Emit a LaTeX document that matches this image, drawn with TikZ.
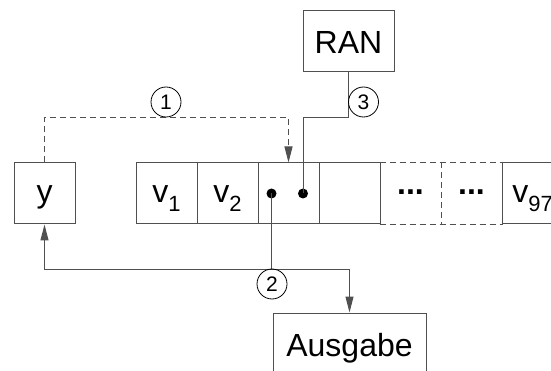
\documentclass[tikz,border=0pt]{standalone}
\usepackage{fontspec}
\setmainfont{Liberation Sans}
\usetikzlibrary{arrows.meta,positioning,calc}
\definecolor{linegray}{HTML}{505050}
\newcommand{\idx}[1]{\raisebox{-9pt}{\fontsize{22}{24}\selectfont #1}}

\begin{document}
\begin{tikzpicture}[x=1pt,y=-1pt,>={Triangle[length=16pt,width=8pt]},
  box/.style={draw=linegray,line width=1pt,minimum width=61pt,minimum height=61pt,
    inner sep=0pt,text height=18pt,text depth=0pt,font=\fontsize{32}{36}\selectfont},
  wide/.style={box,text height=25pt},
  cell/.style={box,draw=none},
  num/.style={circle,draw=black,line width=0.8pt,minimum size=30pt,inner sep=0pt,
    font=\fontsize{21}{24}\selectfont},
  wire/.style={draw=linegray,line width=1pt},
  dashline/.style={wire,dash pattern=on 6pt off 4pt},
  blob/.style={circle,fill=black,minimum size=10pt,inner sep=0pt}]
\useasboundingbox (0,0) rectangle (551,371);
\clip (0,0) rectangle (551,371);
% registers
\node[box] (yvar) at (44.5,193.5) {y};
\node[wide,minimum width=91pt] (ran) at (348.5,41.5) {RAN};
\node[wide,minimum width=153pt] (out) at (349.5,343.5) {Ausgabe};
% table v
\foreach \i/\txt in {1/{v\idx{1}},2/{v\idx{2}},3/{},4/{},7/{v\idx{97}}}{
  \node[box] (c\i) at (105.5+61*\i,193.5) {\txt};}
\foreach \i in {5,6}{
  \node[cell,text height=3pt] (c\i) at (105.5+61*\i,193.5) {\textbf{...}};}
\draw[dashline] (c5.north west) -- (c6.north east)
  (c5.south west) -- (c6.south east) (c5.north east) -- (c5.south east);
\node[blob] (p1) at (271.5,193.5) {};
\node[blob] (p2) at (303,193.5) {};
% steps
\coordinate (upper) at (0,118);
\coordinate (lower) at (0,269);
\draw[dashline,->] (yvar.north) -- (yvar.north |- upper) -| (c3.north);
\draw[wire] (ran.south) -- (ran.south |- upper) -| (p2.center);
\draw[wire,<->] (yvar.south) -- (yvar.south |- lower) -| (out.north);
\draw[wire] (p1.center) -- (p1 |- lower);
\node[num] (n1) at (166,102) {1};
\node[num] (n2) at (272,284) {2};
\node[num] (n3) at (363.5,102) {3};
\end{tikzpicture}
\end{document}
